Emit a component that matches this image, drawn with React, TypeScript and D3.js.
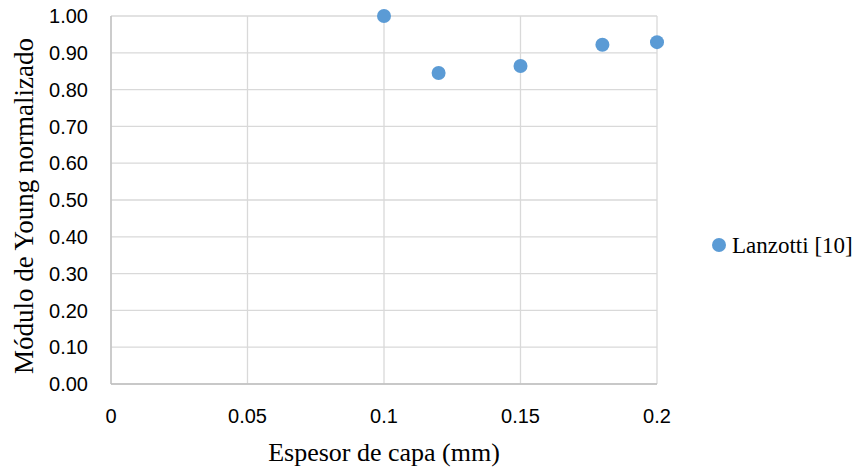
import React, { useEffect, useRef } from 'react'
import * as d3 from 'd3'

const thickness = [0.1, 0.12, 0.15, 0.18, 0.2]
const youngNorm = [1.0, 0.845, 0.864, 0.922, 0.929]
const xTicks = [0, 0.05, 0.1, 0.15, 0.2]
const yTicks = [0, 0.1, 0.2, 0.3, 0.4, 0.5, 0.6, 0.7, 0.8, 0.9, 1.0]
const seriesName = 'Lanzotti [10]'

export default function App() {
  const svgRef = useRef<SVGSVGElement>(null)

  useEffect(() => {
    const width = 860
    const height = 469
    const m = { left: 111, right: 657, top: 16, bottom: 384 }
    const svg = d3.select(svgRef.current)
    svg.selectAll('*').remove()

    const x = d3.scaleLinear().domain([0, 0.2]).range([m.left, m.right])
    const y = d3.scaleLinear().domain([0, 1]).range([m.bottom, m.top])

    // grid
    svg.append('g')
      .selectAll('line')
      .data(yTicks)
      .join('line')
      .attr('x1', m.left).attr('x2', m.right)
      .attr('y1', d => y(d)).attr('y2', d => y(d))
      .attr('stroke', '#d9d9d9').attr('stroke-width', 1.3)

    svg.append('g')
      .selectAll('line')
      .data(xTicks)
      .join('line')
      .attr('x1', d => x(d)).attr('x2', d => x(d))
      .attr('y1', m.top).attr('y2', m.bottom)
      .attr('stroke', '#d9d9d9').attr('stroke-width', 1.3)

    // axis lines
    svg.append('line')
      .attr('x1', m.left).attr('x2', m.right)
      .attr('y1', m.bottom).attr('y2', m.bottom)
      .attr('stroke', '#bfbfbf').attr('stroke-width', 1.3)
    svg.append('line')
      .attr('x1', m.left).attr('x2', m.left)
      .attr('y1', m.top).attr('y2', m.bottom)
      .attr('stroke', '#bfbfbf').attr('stroke-width', 1.3)

    // tick labels
    svg.append('g')
      .selectAll('text')
      .data(yTicks)
      .join('text')
      .attr('x', 88)
      .attr('y', d => y(d))
      .attr('dy', '0.36em')
      .attr('text-anchor', 'end')
      .style('font-family', '"Liberation Sans", Arial, sans-serif')
      .style('font-size', '20px')
      .attr('fill', '#000')
      .text(d => d3.format('.2f')(d))

    svg.append('g')
      .selectAll('text')
      .data(xTicks)
      .join('text')
      .attr('x', d => x(d))
      .attr('y', 423)
      .attr('text-anchor', 'middle')
      .style('font-family', '"Liberation Sans", Arial, sans-serif')
      .style('font-size', '20px')
      .attr('fill', '#000')
      .text(d => String(d))

    // axis titles
    svg.append('text')
      .attr('x', (m.left + m.right) / 2)
      .attr('y', 461)
      .attr('text-anchor', 'middle')
      .style('font-family', '"Liberation Serif", "Times New Roman", serif')
      .style('font-size', '26px')
      .text('Espesor de capa (mm)')

    svg.append('text')
      .attr('transform', `translate(33,206) rotate(-90)`)
      .attr('text-anchor', 'middle')
      .style('font-family', '"Liberation Serif", "Times New Roman", serif')
      .style('font-size', '27px')
      .text('Módulo de Young normalizado')

    // points
    svg.append('g')
      .selectAll('circle')
      .data(thickness.map((t, i) => ({ t, v: youngNorm[i] })))
      .join('circle')
      .attr('cx', d => x(d.t))
      .attr('cy', d => y(d.v))
      .attr('r', 7)
      .attr('fill', '#5b9bd5')

    // legend
    const lg = svg.append('g')
    lg.append('circle').attr('cx', 719).attr('cy', 245).attr('r', 7).attr('fill', '#5b9bd5')
    lg.append('text')
      .attr('x', 732)
      .attr('y', 253)
      .style('font-family', '"Liberation Serif", "Times New Roman", serif')
      .style('font-size', '23px')
      .text(seriesName)

    svg.attr('width', width).attr('height', height)
  }, [])

  return (
    <svg ref={svgRef} style={{ position: 'absolute', left: 0, top: 0, background: '#fff' }}></svg>
  )
}
